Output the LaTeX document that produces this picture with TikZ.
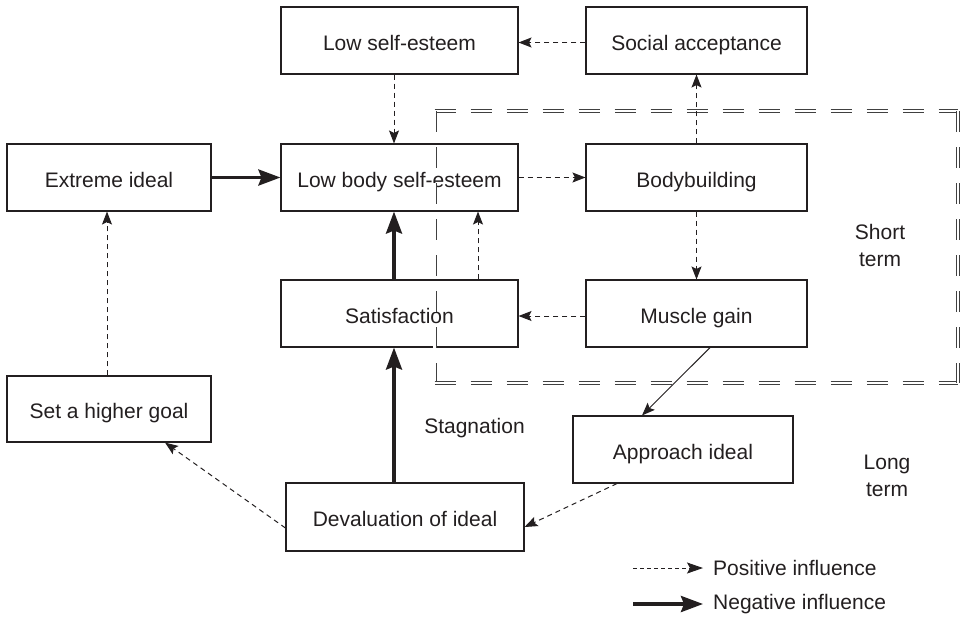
\documentclass[tikz,border=0pt]{standalone}
\usepackage{fontspec}
\setmainfont{Liberation Sans}
\usetikzlibrary{arrows.meta}
\definecolor{ink}{HTML}{231F20}
\begin{document}
\begin{tikzpicture}[x=1pt,y=-1pt,
  box/.style={draw=ink, line width=1.1pt, minimum height=67pt, inner sep=0pt, text=ink, text height=22pt, text depth=3pt, font=\fontsize{21}{25}\selectfont},
  posarrow/.style={draw=ink, line width=1pt, dash pattern=on 5pt off 4pt, -{Stealth[length=13pt,width=10pt,inset=2.5pt]}},
  negarrow/.style={draw=ink, line width=3.5pt, -{Stealth[length=22pt,width=16pt,inset=3pt]}},
  plainarrow/.style={draw=ink, line width=1pt, -{Stealth[length=13pt,width=10pt,inset=2.5pt]}},
  lbl/.style={text=ink, font=\fontsize{21}{27}\selectfont, align=center, inner sep=0pt},
  region/.style={draw=black!75, line width=0.9pt, double=white, double distance=2.2pt, dash pattern=on 21pt off 15pt}
]
\useasboundingbox[fill=white] (0,0) rectangle (960,619);

% nodes
\node[box, minimum width=237pt] (lse)  at (399.5,40.5)  {Low self-esteem};
\node[box, minimum width=221pt] (soc)  at (696.5,40.5)  {Social acceptance};
\node[box, minimum width=204pt] (ext)  at (109,177.5)   {Extreme ideal};
\node[box, minimum width=237pt] (lbse) at (399.5,177.5) {Low body self-esteem};
\node[box, minimum width=221pt] (bb)   at (696.5,177.5) {Bodybuilding};
\node[box, minimum width=237pt] (sat)  at (399.5,313.5) {Satisfaction};
\node[box, minimum width=221pt] (mg)   at (696.5,313.5) {Muscle gain};
\node[box, minimum width=204pt, minimum height=66pt] (goal) at (109,409) {Set a higher goal};
\node[box, minimum width=220pt] (appr) at (683,449.5)   {Approach ideal};
\node[box, minimum width=238pt, minimum height=68pt] (dev) at (405,517) {Devaluation of ideal};

% labels
\node[lbl] (stag)  at (474.5,428) {Stagnation};
\node[lbl] (short) at (880,245.5) {Short\\term};
\node[lbl] (long)  at (887,475.5) {Long\\term};

% short-term region
\coordinate (rtl) at (434.5,111);
\coordinate (rtr) at (958,111);
\coordinate (rbl) at (434.5,383);
\coordinate (rbr) at (958,383);
\draw[region] (rtl) -- (rtr);
\draw[region] (rtl) -- (rbl);
\draw[region] (rbl) -- (rbr);
\draw[region] (rtr) -- (rbr);

% connectors
\draw[posarrow] ([yshift=-2pt]soc.west) -- ([yshift=-2pt]lse.east);
\draw[posarrow] ([xshift=-5.5pt]lse.south) -- ([xshift=-5.5pt]lbse.north);
\draw[negarrow] (ext.east) -- (lbse.west);
\draw[posarrow] (lbse.east) -- (bb.west);
\draw[posarrow] (bb.north) -- (soc.south);
\draw[posarrow] (bb.south) -- (mg.north);
\draw[posarrow] ([yshift=-2.5pt]mg.west) -- ([yshift=-2.5pt]sat.east);
\draw[negarrow] ([xshift=-5.5pt]sat.north) -- ([xshift=-5.5pt]lbse.south);
\draw[posarrow] ([xshift=78.5pt]sat.north) -- ([xshift=78.5pt]lbse.south);
\draw[negarrow] ([xshift=-11pt]dev.north) -- ([xshift=-5.5pt]sat.south);
\draw[plainarrow] ([xshift=13.5pt]mg.south) -- ([xshift=-41pt]appr.north);
\draw[posarrow] ([xshift=-66pt]appr.south) -- ([yshift=-10pt]dev.east);
\draw[posarrow] ([yshift=-11pt]dev.west) -- ([xshift=56pt]goal.south);
\draw[posarrow] ([xshift=-2pt]goal.north) -- ([xshift=-2pt]ext.south);

% legend
\coordinate (pa) at (633,568);
\coordinate (pb) at (703,568);
\coordinate (na) at (633,604);
\coordinate (nb) at (703,604);
\draw[posarrow, dash pattern=on 4pt off 3pt, -{Stealth[length=16pt,width=11pt,inset=3pt]}] (pa) -- (pb);
\draw[negarrow] (na) -- (nb);
\node[lbl, anchor=west] (ptxt) at (713,568) {Positive influence};
\node[lbl, anchor=west] (ntxt) at (713,604) {Negative influence};
\end{tikzpicture}
\end{document}
